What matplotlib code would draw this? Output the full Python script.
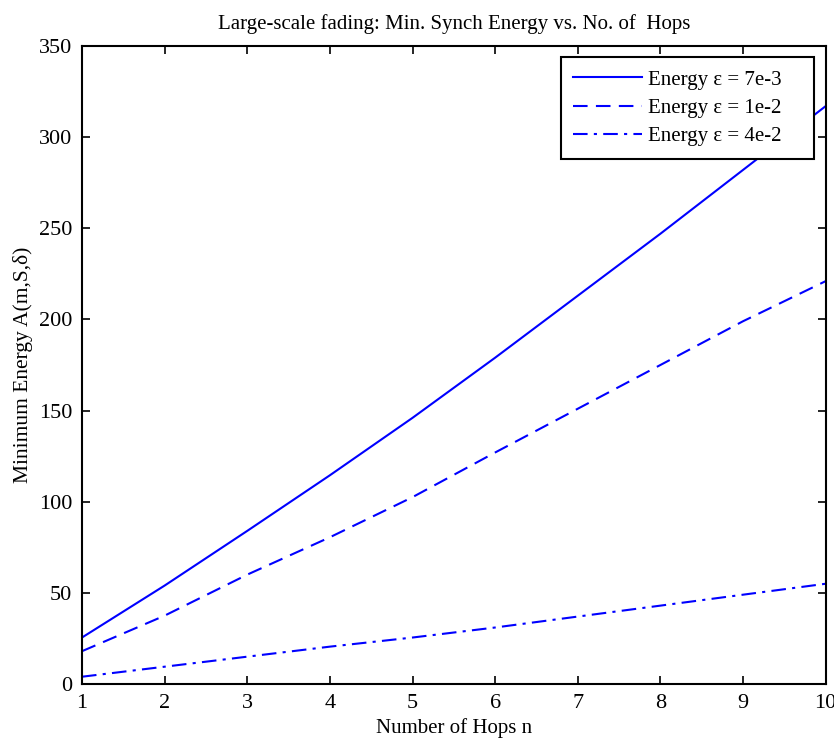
import matplotlib
matplotlib.use("Agg")
import matplotlib.pyplot as plt

hops = [1, 2, 3, 4, 5, 6, 7, 8, 9, 10]
energy_7e3 = [25.5, 54, 84, 114.5, 146, 179, 213, 247, 282, 317]
energy_1e2 = [18, 37.5, 60, 80.5, 102.5, 127, 151, 175, 199, 221]
energy_4e2 = [4, 9.5, 15, 20.5, 25.5, 31, 37, 43, 49, 55]
labels = ["Energy \u03b5 = 7e-3", "Energy \u03b5 = 1e-2", "Energy \u03b5 = 4e-2"]

plt.rcParams['font.family'] = ['Liberation Serif', 'DejaVu Serif']

fig = plt.figure(figsize=(8.34, 7.39), dpi=100)
ax = fig.add_axes([0.0983, 0.0744, 0.8917, 0.8634])

ax.plot(hops, energy_7e3, color='#0000ff', lw=1.5, ls='-', label=labels[0])
ax.plot(hops, energy_1e2, color='#0000ff', lw=1.5, ls=(0, (7, 4)), label=labels[1])
ax.plot(hops, energy_4e2, color='#0000ff', lw=1.5, ls=(0, (7, 3, 1.5, 3)), label=labels[2])

ax.set_xlim(1, 10)
ax.set_ylim(0, 350)
ax.set_xticks(range(1, 11))
ax.set_yticks(range(0, 351, 50))
ax.tick_params(direction='in', top=True, right=True, length=6, width=1.2, labelsize=16, pad=7)
for s in ax.spines.values():
    s.set_linewidth(1.5)

ax.set_title("Large-scale fading: Min. Synch Energy vs. No. of  Hops", fontsize=15, pad=12)
ax.set_xlabel("Number of Hops n", fontsize=15, labelpad=4)
ax.set_ylabel("Minimum Energy A(m,S,\u03b4)", fontsize=15.5, labelpad=4)

leg = ax.legend(loc='upper left', bbox_to_anchor=(0.644, 0.0, 0.340, 0.982),
                mode='expand', fontsize=15, fancybox=False, framealpha=1,
                edgecolor='black', handlelength=3.3, borderaxespad=0.0,
                labelspacing=0.42, handletextpad=0.3, borderpad=0.6)
leg.get_frame().set_linewidth(1.5)

fig.savefig("out.png", dpi=100)
